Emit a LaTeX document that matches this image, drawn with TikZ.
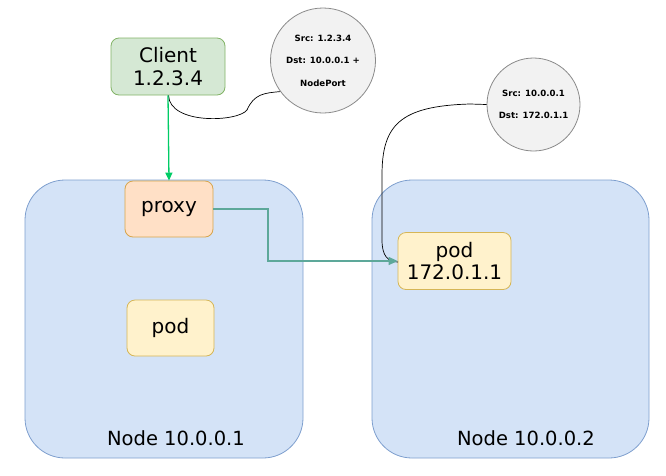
\documentclass[tikz,border=0pt]{standalone}
\usepackage{fontspec}
\setmainfont{DejaVu Sans}
\usetikzlibrary{arrows.meta}
\definecolor{hostfill}{HTML}{D4E3F7}
\definecolor{hostline}{HTML}{7E9FCE}
\definecolor{clientfill}{HTML}{D5E8D4}
\definecolor{clientline}{HTML}{82B366}
\definecolor{proxyfill}{HTML}{FFE0C6}
\definecolor{proxyline}{HTML}{D7A54C}
\definecolor{podfill}{HTML}{FFF2CC}
\definecolor{podline}{HTML}{D6B656}
\definecolor{notefill}{HTML}{F2F2F2}
\definecolor{noteline}{HTML}{8A8A8A}
\definecolor{reqgreen}{HTML}{00CC66}
\definecolor{fwdteal}{HTML}{5DA89A}
\begin{document}
\begin{tikzpicture}[x=1pt,y=-1pt,
  host/.style={draw=hostline,fill=hostfill,rounded corners=40pt,line width=0.8pt},
  box/.style={draw,rounded corners=8pt,line width=0.8pt,align=center,font=\fontsize{20}{22.5}\selectfont},
  hostlabel/.style={font=\fontsize{19.5}{22}\selectfont},
  note/.style={circle,draw=noteline,fill=notefill,line width=0.8pt,align=center,
    font=\bfseries\fontsize{8.6}{22.5}\selectfont,inner sep=0pt},
  curvy/.style={draw=black,line width=0.7pt}]
\useasboundingbox (0,0) rectangle (666,475);
% hosts
\draw[host] (25,180) rectangle (303,458);
\draw[host] (372,180) rectangle (649,458);
\node[hostlabel] (lbl1) at (176,438) {Node 10.0.0.1};
\node[hostlabel] (lbl2) at (526,438) {Node 10.0.0.2};
% boxes
\node[box,draw=clientline,fill=clientfill,minimum width=114pt,minimum height=57pt] (client) at (168,66.5) {Client\\1.2.3.4};
\node[box,draw=proxyline,fill=proxyfill,minimum width=88pt,minimum height=56pt] (proxy) at (169,209) {proxy};
\node[box,draw=podline,fill=podfill,minimum width=87pt,minimum height=56pt] (podA) at (170.5,328) {pod};
\node[box,draw=podline,fill=podfill,minimum width=113pt,minimum height=57pt] (podB) at (454.5,261) {pod\\172.0.1.1};
% notes
\node[note,minimum size=105pt] (noteA) at (323,60.5) {Src: 1.2.3.4\\Dst: 10.0.0.1 +\\NodePort};
\node[note,minimum size=93pt] (noteB) at (533.5,104.5) {Src: 10.0.0.1\\Dst: 172.0.1.1};
% note connectors
\coordinate (ca) at (168.5,95.5);
\draw[curvy] (ca) .. controls (170,125) and (238,122) .. (247,110)
  .. controls (254,94) and (264,93) .. (noteA.216);
\coordinate (cb) at (398,262);
\draw[curvy] (noteB.west) -- (470,104) .. controls (400,106) and (382,125) .. (382,175)
  -- (382,240) .. controls (382,256) and (388,262) .. (cb);
% traffic
\coordinate (bend) at (268,0);
\draw[reqgreen,line width=1.3pt,-{Triangle[length=8pt,width=7pt]}] (client.south) -- (proxy.north);
\draw[fwdteal,line width=1.6pt,-{Triangle[length=9pt,width=8pt]}] (proxy.east) -- (proxy.east -| bend) |- (podB.west);
\end{tikzpicture}
\end{document}
